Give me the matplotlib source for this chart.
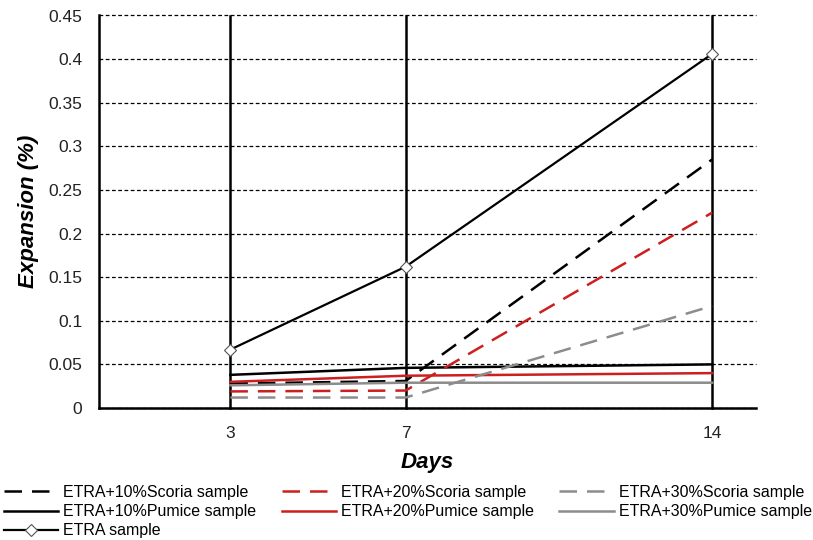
import matplotlib
matplotlib.use("Agg")
import matplotlib.pyplot as plt
from matplotlib import font_manager

names = {f.name for f in font_manager.fontManager.ttflist}
narrow = 'Liberation Sans Narrow' if 'Liberation Sans Narrow' in names else 'Liberation Sans'
plt.rcParams["font.family"] = ['Liberation Sans', 'DejaVu Sans']

days = [3, 7, 14]
scoria10 = [0.028, 0.031, 0.285]
scoria20 = [0.019, 0.020, 0.224]
scoria30 = [0.012, 0.012, 0.117]
pumice10 = [0.038, 0.046, 0.050]
pumice20 = [0.030, 0.037, 0.040]
pumice30 = [0.026, 0.029, 0.029]
etra = [0.067, 0.162, 0.406]

red = '#cc1f1f'
gray = '#8c8c8c'
dash = (0, (7, 4))

fig = plt.figure(figsize=(8.13, 5.40), dpi=100)
ax = fig.add_axes([99/813, 132/540, 657/813, 392.5/540])

# horizontal dashed grid and vertical lines at each day
ax.set_yticks([i * 0.05 for i in range(10)])
ax.yaxis.grid(True, color='black', linestyle=(0, (3, 2)), linewidth=0.9)
for d in days:
    ax.axvline(d, color='black', linewidth=1.8, zorder=1, clip_on=False)

l1, = ax.plot(days, scoria10, color='black', linestyle=dash, linewidth=1.8, zorder=3)
l2, = ax.plot(days, pumice10, color='black', linewidth=1.8, zorder=3)
l3, = ax.plot(days, etra, color='black', linewidth=1.6, marker='D',
              markersize=6, markerfacecolor='white', markeredgecolor='#555555',
              markeredgewidth=0.8, zorder=4)
l4, = ax.plot(days, scoria20, color=red, linestyle=dash, linewidth=1.8, zorder=3)
l5, = ax.plot(days, pumice20, color=red, linewidth=1.8, zorder=3)
l6, = ax.plot(days, scoria30, color=gray, linestyle=dash, linewidth=1.8, zorder=3)
l7, = ax.plot(days, pumice30, color=gray, linewidth=1.8, zorder=3)

ax.set_xlim(0, 15)
ax.set_ylim(0, 0.45)
ax.set_xticks(days)
ax.set_yticklabels(['0', '0.05', '0.1', '0.15', '0.2', '0.25', '0.3', '0.35', '0.4', '0.45'])
ax.tick_params(axis='both', length=0, labelsize=12.5, colors='#222222')
ax.tick_params(axis='y', pad=12)
ax.tick_params(axis='x', pad=13)
for g in ax.get_ygridlines():
    g.set_clip_on(False)

for s in ['top', 'right']:
    ax.spines[s].set_visible(False)
for s in ['left', 'bottom']:
    ax.spines[s].set_linewidth(1.8)

ax.set_xlabel('Days', fontsize=16, fontweight='bold', fontstyle='italic', labelpad=8)
ax.set_ylabel('Expansion (%)', fontsize=16, fontweight='bold', fontstyle='italic', labelpad=7)

handles = [l1, l2, l3, l4, l5, l6, l7]
labels = ['ETRA+10%Scoria sample', 'ETRA+10%Pumice sample', 'ETRA sample',
          'ETRA+20%Scoria sample', 'ETRA+20%Pumice sample',
          'ETRA+30%Scoria sample', 'ETRA+30%Pumice sample']
fig.legend(handles, labels, loc='upper left', bbox_to_anchor=(0.005, 1 - 485/540),
           ncol=3, frameon=False, prop={'family': narrow, 'size': 11.5},
           handlelength=3.4, handletextpad=0.3, columnspacing=1.6,
           labelspacing=0.26, borderpad=0, borderaxespad=0)

fig.savefig('out.png', dpi=100)
